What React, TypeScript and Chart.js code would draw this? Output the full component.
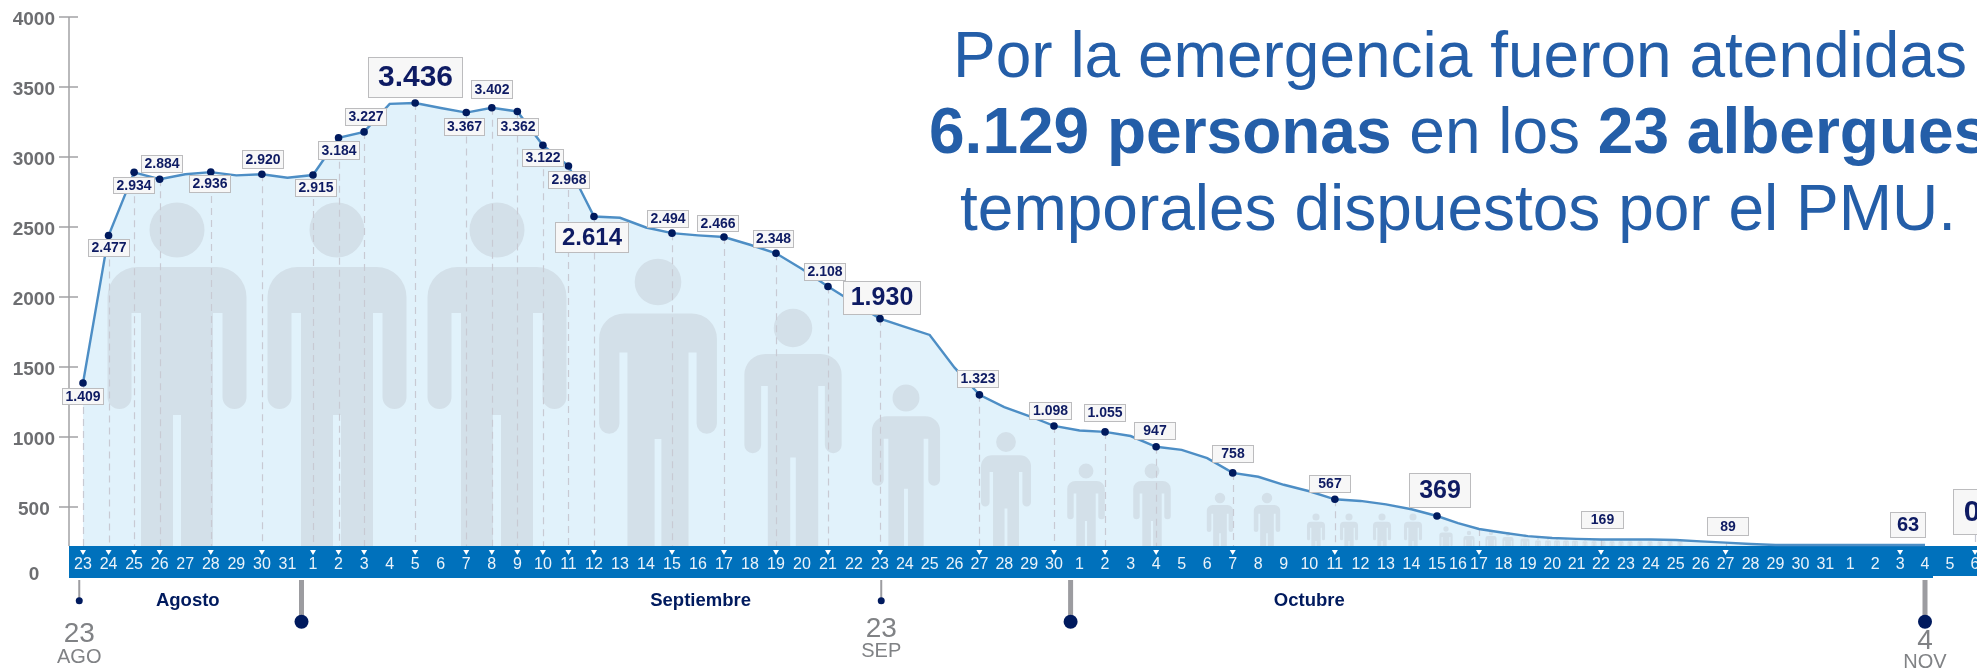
import React, { useEffect, useRef } from "react";
import { Chart, LinearScale, registerables } from "chart.js";

// ---------- data ----------
const dayLabels = [
  "23","24","25","26","27","28","29","30","31",
  "1","2","3","4","5","6","7","8","9","10","11","12","13","14","15","16","17","18","19","20","21","22","23","24","25","26","27","28","29","30",
  "1","2","3","4","5","6","7","8","9","10","11","12","13","14","15","16","17","18","19","20","21","22","23","24","25","26","27","28","29","30","31",
  "1","2","3","4","5","6",
];
const augustLevels = [1409, 2477, 2934, 2884, 2920, 2936, 2912, 2920, 2895];
const septemberLevels = [2915, 3184, 3227, 3430, 3436, 3400, 3367, 3402, 3375, 3130, 2980, 2614, 2605, 2535, 2494, 2478, 2466, 2410, 2348, 2235, 2108, 1990, 1875, 1815, 1757, 1520, 1323, 1235, 1170, 1098];
const octoberLevels = [1065, 1055, 1025, 947, 925, 865, 758, 730, 672, 625, 567, 555, 530, 495, 446, 395, 352, 325, 300, 287, 280, 276, 276, 276, 272, 262, 253, 243, 236, 236, 236];
const novemberLevels = [236, 236, 236, 236];
const levels = [...augustLevels, ...septemberLevels, ...octoberLevels, ...novemberLevels];

const yTicks = [500, 1000, 1500, 2000, 2500, 3000, 3500, 4000];
const monthNames = ["Agosto", "Septiembre", "Octubre"];

const dotDays = [0,1,2,3,5,7,9,10,11,13,15,16,17,18,19,20,23,25,27,29,31,35,38,40,42,45,49,53];
const triangleDays = [0,1,2,3,5,7,9,10,11,13,15,16,17,18,19,20,23,25,27,29,31,35,38,40,42,45,49,55,60,65,72,75];

// ---------- callout layout: day, text, box left, right, top, bottom, font size ----------
const callouts: [number, string, number, number, number, number, number][] = [
  [0, "1.409", 62, 104, 388, 405, 14],
  [1, "2.477", 88, 130, 239, 257, 14],
  [2, "2.934", 113, 155, 177, 194, 14],
  [3, "2.884", 141, 183, 155, 173, 14],
  [5, "2.936", 189, 231, 175, 193, 14],
  [7, "2.920", 242, 284, 150, 169, 14],
  [9, "2.915", 295, 337, 179, 197, 14],
  [10, "3.184", 318, 360, 141, 160, 14],
  [11, "3.227", 345, 387, 108, 126, 14],
  [13, "3.436", 368, 463, 57, 98, 30],
  [15, "3.367", 444, 485, 118, 136, 14],
  [16, "3.402", 471, 513, 80, 99, 14],
  [17, "3.362", 497, 539, 118, 136, 14],
  [18, "3.122", 522, 564, 149, 167, 14],
  [19, "2.968", 548, 590, 171, 189, 14],
  [20, "2.614", 555, 629, 222, 253, 24],
  [23, "2.494", 647, 689, 210, 228, 14],
  [25, "2.466", 697, 739, 215, 232, 14],
  [27, "2.348", 753, 794, 230, 248, 14],
  [29, "2.108", 804, 846, 263, 281, 14],
  [31, "1.930", 843, 921, 281, 315, 25],
  [35, "1.323", 957, 999, 370, 388, 14],
  [38, "1.098", 1029, 1072, 402, 420, 14],
  [40, "1.055", 1084, 1126, 404, 422, 14],
  [42, "947", 1134, 1176, 422, 440, 14],
  [45, "758", 1212, 1254, 445, 463, 14],
  [49, "567", 1309, 1351, 475, 493, 14],
  [53, "369", 1409, 1471, 473, 508, 25],
  [60, "169", 1581, 1624, 511, 529, 14],
  [65, "89", 1707, 1749, 517, 536, 14],
  [72, "63", 1890, 1926, 512, 538, 20],
  [75, "0", 1953, 2010, 489, 535, 30],
];

// cx, head centre y, scale
const people: [number, number, number][] = [
  [177, 230, 1], [337, 230, 1], [497, 230, 1], [658, 282, 0.848], [793, 328, 0.7], [906, 398, 0.49],
  [1006, 442, 0.36], [1086, 471, 0.27], [1152, 471, 0.27], [1220, 498, 0.19], [1267, 498, 0.19],
  [1316, 517, 0.13], [1349, 517, 0.13], [1382, 517, 0.13], [1413, 517, 0.13],
  [1446, 529, 0.096], [1469, 533, 0.08], [1491, 533, 0.08], [1508, 534, 0.08], [1525, 536, 0.065],
  [1538, 539, 0.04], [1548, 539, 0.04], [1557, 539, 0.04], [1566, 539, 0.04], [1575, 539, 0.04],
  [1585, 540, 0.035], [1594, 540, 0.035], [1603, 540, 0.035], [1612, 540, 0.035], [1621, 540, 0.035],
  [1630, 540, 0.035], [1640, 540, 0.035], [1650, 540, 0.035], [1660, 540, 0.035], [1670, 540, 0.035], [1680, 540, 0.035],
];

// day position, stem width, dot radius, dot y, big text, big text y, small text, small text y
const milestones: [number, number, number, number, string, number, string, number][] = [
  [-0.15, 2, 3.5, 600.7, "23", 634, "AGO", 657],
  [8.55, 5, 7, 621.7, "", 0, "", 0],
  [31.05, 2, 3.5, 600.7, "23", 629, "SEP", 651],
  [38.65, 5, 7, 621.7, "", 0, "", 0],
  [73, 5, 7, 621.7, "4", 641, "NOV", 662],
];

const FONT = '"Liberation Sans", Arial, sans-serif';
const NAVY = "#001A5E";
const BAND_TOP = 546;

// Day axis: the reference's calendar is not perfectly even, so the linear scale is bent at a few calibration knots.
const dayKnots: [number, number][] = [[-1, 58], [0, 83], [9, 313], [20, 594], [31, 880], [38, 1054], [53, 1437], [55, 1479], [60, 1601], [73, 1925], [75, 1975], [77, 2025]];

class CalendarScale extends LinearScale {
  static id = "calendar";
  static defaults = (LinearScale as any).defaults;
  getPixelForValue(v: number) {
    for (let i = 0; i < dayKnots.length - 1; i++) {
      const [a, pa] = dayKnots[i];
      const [b, pb] = dayKnots[i + 1];
      if (v <= b || i === dayKnots.length - 2) return pa + ((v - a) / (b - a)) * (pb - pa);
    }
    return 0;
  }
}

Chart.register(...registerables, CalendarScale as any);

function drawPerson(ctx: CanvasRenderingContext2D, cx: number, hy: number, u: number) {
  const top = hy + 37 * u;
  const pit = hy + 83 * u;
  const armEnd = hy + 179 * u;
  const split = hy + 185 * u;
  ctx.beginPath();
  ctx.arc(cx, hy, 27.5 * u, 0, Math.PI * 2);
  ctx.roundRect(cx - 69.5 * u, top, 139 * u, pit - top, [30 * u, 30 * u, 0, 0]);
  ctx.roundRect(cx - 69.5 * u, pit - 1, 24 * u, armEnd - pit + 1, [0, 0, 12 * u, 12 * u]);
  ctx.roundRect(cx + 45.5 * u, pit - 1, 24 * u, armEnd - pit + 1, [0, 0, 12 * u, 12 * u]);
  ctx.rect(cx - 36 * u, pit - 1, 72 * u, split - pit + 1);
  ctx.rect(cx - 36 * u, split - 1, 32 * u, BAND_TOP - split + 1);
  ctx.rect(cx + 4 * u, split - 1, 32 * u, BAND_TOP - split + 1);
  ctx.fill("nonzero");
}

const backdrop = {
  id: "backdrop",
  beforeDatasetsDraw(chart: any) {
    const { ctx } = chart;
    const x = chart.scales.x;
    const y = chart.scales.yData;
    ctx.save();
    ctx.fillStyle = "#D3E0E9";
    people.forEach(([cx, hy, u]) => drawPerson(ctx, cx, hy, u));

    ctx.strokeStyle = "#C8CAD3";
    ctx.lineWidth = 1.2;
    ctx.setLineDash([7, 5]);
    triangleDays.forEach((d) => {
      const px = Math.round(x.getPixelForValue(d)) + 0.5;
      const v = levels[Math.min(d, levels.length - 1)];
      ctx.beginPath();
      ctx.moveTo(px, d === 75 ? 535 : y.getPixelForValue(v));
      ctx.lineTo(px, BAND_TOP);
      ctx.stroke();
    });
    ctx.setLineDash([]);

    ctx.fillStyle = "#0071BC";
    ctx.fillRect(69, BAND_TOP, 1864, 32);
    ctx.fillRect(1933, BAND_TOP, 44, 30);

    ctx.fillStyle = "#FFFFFF";
    triangleDays.forEach((d) => {
      const px = x.getPixelForValue(d);
      ctx.beginPath();
      ctx.moveTo(px - 3, 550);
      ctx.lineTo(px + 3, 550);
      ctx.lineTo(px, 555);
      ctx.closePath();
      ctx.fill();
    });
    ctx.restore();
  },
  afterDatasetsDraw(chart: any) {
    const { ctx } = chart;
    const x = chart.scales.x;
    const yAxis = chart.scales.y;
    ctx.save();

    // y axis line and ticks
    ctx.strokeStyle = "#A2A2A5";
    ctx.lineWidth = 1.5;
    ctx.beginPath();
    ctx.moveTo(69, yAxis.getPixelForValue(4000));
    ctx.lineTo(69, BAND_TOP);
    yTicks.forEach((t) => {
      const py = yAxis.getPixelForValue(t);
      ctx.moveTo(59, py);
      ctx.lineTo(78, py);
    });
    ctx.stroke();
    ctx.font = `bold 19px ${FONT}`;
    ctx.fillStyle = "#6D6E71";
    ctx.textAlign = "center";
    ctx.textBaseline = "middle";
    ctx.fillText("0", 34, 575);

    // callouts
    callouts.forEach(([, text, l, r, t, b, size]) => {
      ctx.fillStyle = "#F7F7F7";
      ctx.strokeStyle = "#BCBCBE";
      ctx.lineWidth = 1;
      ctx.fillRect(l, t, r - l, b - t);
      ctx.strokeRect(l + 0.5, t + 0.5, r - l - 1, b - t - 1);
      ctx.fillStyle = "#0E1B63";
      ctx.font = `bold ${size}px ${FONT}`;
      ctx.textAlign = "center";
      ctx.textBaseline = "middle";
      const cx = text === "0" ? 1972 : (l + r) / 2;
      ctx.fillText(text, cx, (t + b) / 2 + 0.5);
    });

    // months
    ctx.fillStyle = NAVY;
    ctx.font = `bold 18.5px ${FONT}`;
    monthNames.forEach((m, i) => {
      const day = [4.1, 24.1, 48][i];
      ctx.fillText(m, x.getPixelForValue(day), 601);
    });

    // milestones
    milestones.forEach(([day, w, r, dotY, big, bigY, small, smallY]) => {
      const px = x.getPixelForValue(day);
      ctx.fillStyle = "#9C9CA0";
      ctx.fillRect(px - w / 2, 580, w, dotY - 580);
      ctx.fillStyle = NAVY;
      ctx.beginPath();
      ctx.arc(px, dotY, r, 0, Math.PI * 2);
      ctx.fill();
      if (big) {
        ctx.fillStyle = "#808285";
        ctx.font = `28px ${FONT}`;
        ctx.fillText(big, px, bigY);
        ctx.font = `20px ${FONT}`;
        ctx.fillText(small, px, smallY);
      }
    });

    // headline
    ctx.fillStyle = "#245EA8";
    ctx.textAlign = "left";
    ctx.textBaseline = "alphabetic";
    ctx.font = `64px ${FONT}`;
    ctx.fillText("Por la emergencia fueron atendidas", 953, 77);
    let cursor = 929;
    [["6.129 personas", true], [" en los ", false], ["23 albergues", true]].forEach(([s, bold]: any) => {
      ctx.font = `${bold ? "bold " : ""}64px ${FONT}`;
      ctx.fillText(s, cursor, 153);
      cursor += ctx.measureText(s).width;
    });
    ctx.font = `64px ${FONT}`;
    ctx.fillText("temporales dispuestos por el PMU.", 960, 230);
    ctx.restore();
  },
};

export default function App() {
  const ref = useRef<HTMLCanvasElement>(null);
  useEffect(() => {
    document.body.style.margin = "0";
    document.body.style.overflow = "hidden";
    const chart = new Chart(ref.current as HTMLCanvasElement, {
      type: "line",
      data: {
        datasets: [
          {
            data: levels.map((v, i) => ({ x: i, y: v })),
            yAxisID: "yData",
            borderColor: "#4D8EC5",
            borderWidth: 2.4,
            backgroundColor: "#E1F2FB",
            fill: "origin",
            tension: 0,
            pointRadius: (c: any) => (dotDays.includes(c.dataIndex) ? 3.8 : 0),
            pointBackgroundColor: NAVY,
            pointBorderWidth: 0,
            clip: false,
          },
        ],
      },
      options: {
        animation: false,
        responsive: false,
        layout: { padding: { top: 17, bottom: 92, left: 0, right: 0 } },
        plugins: {
          legend: { display: false },
          tooltip: { enabled: false },
          title: { display: false },
          filler: { drawTime: "beforeDatasetsDraw" },
        },
        scales: {
          x: {
            type: "calendar",
            min: -0.5,
            max: 75.08,
            afterBuildTicks: (s: any) => {
              s.ticks = dayLabels.map((_, i) => ({ value: i }));
            },
            afterFit: (s: any) => {
              s.height = 0;
            },
            grid: { display: false, drawTicks: false },
            border: { display: false },
            ticks: {
              z: 1,
              mirror: true,
              autoSkip: false,
              maxRotation: 0,
              minRotation: 0,
              padding: 4,
              color: "#EAF3FA",
              font: { family: FONT, size: 16 },
              callback: (v: any) => dayLabels[v],
            },
          } as any,
          y: {
            position: "left",
            min: -7,
            max: 4000,
            afterBuildTicks: (s: any) => {
              s.ticks = yTicks.map((value) => ({ value }));
            },
            afterFit: (s: any) => {
              s.width = 69;
              s.paddingTop = 0;
              s.paddingBottom = 0;
            },
            grid: { display: false, drawTicks: false },
            border: { display: false },
            ticks: {
              autoSkip: false,
              padding: 14,
              labelOffset: 3,
              color: "#6D6E71",
              font: { family: FONT, size: 19, weight: "bold" },
              callback: (v: any) => (v === 500 ? "500 " : String(v)),
            },
          },
          yData: { display: false, position: "left", min: -3, max: 4059 },
        },
      } as any,
      plugins: [backdrop],
    });
    return () => chart.destroy();
  }, []);
  return <canvas ref={ref} width={1977} height={670} style={{ display: "block" }} />;
}
